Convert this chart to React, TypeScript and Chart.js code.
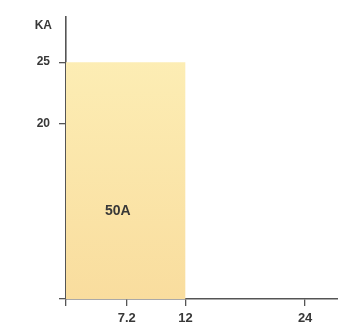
import React, { useEffect, useRef } from "react";
import { Chart, registerables } from "chart.js";

Chart.register(...registerables);

// Data
const areaX: number[] = [0, 12];
const areaY: number[] = [25, 25];
const areaLabel = "50A";
const areaLabelPos = { x: 5.2, y: 12.8 };
const yUnit = "KA";

// Tick positions (schematic axis) and their labels
const xTickValues: number[] = [0, 6.1, 12, 24];
const xTickLabels: string[] = ["", "7.2", "12", "24"];
const yTickValues: number[] = [5.6, 20, 25];
const yTickLabels: string[] = ["", "20", "25"];

const X_MIN = 0;
const X_MAX = 27.3;
const Y_MIN = 5.6;
const Y_MAX = 28.7;

const textColor = "#383838";
const axisColor = "#555555";
const fontFamily = "Arial, 'Liberation Sans', sans-serif";

export default function App() {
  const ref = useRef<HTMLCanvasElement | null>(null);

  useEffect(() => {
    document.body.style.margin = "0";
    const canvas = ref.current;
    if (!canvas) return;

    const labelPlugin = {
      id: "labels",
      afterDatasetsDraw(chart: any) {
        const { ctx, chartArea, scales } = chart;
        ctx.save();
        ctx.fillStyle = textColor;
        ctx.font = `bold 14px ${fontFamily}`;
        ctx.textAlign = "center";
        ctx.textBaseline = "middle";
        ctx.fillText(
          areaLabel,
          scales.x.getPixelForValue(areaLabelPos.x),
          scales.y.getPixelForValue(areaLabelPos.y)
        );
        ctx.font = `bold 12px ${fontFamily}`;
        ctx.textAlign = "right";
        ctx.fillText(yUnit, chartArea.left - 14, chartArea.top + 9);
        ctx.restore();
      },
    };

    const chart = new Chart(canvas, {
      type: "line",
      data: {
        datasets: [
          {
            data: areaX.map((x, i) => ({ x, y: areaY[i] })),
            fill: "start",
            borderWidth: 0,
            pointRadius: 0,
            backgroundColor: (c: any) => {
              const area = c.chart.chartArea;
              if (!area) return "#fbe6a8";
              const g = c.chart.ctx.createLinearGradient(0, area.top, 0, area.bottom);
              g.addColorStop(0, "#fdf0b8");
              g.addColorStop(1, "#f9dd9e");
              return g;
            },
          },
        ],
      },
      options: {
        animation: false,
        responsive: false,
        maintainAspectRatio: false,
        layout: { padding: { top: 17, right: 0, left: 0, bottom: 0 } },
        plugins: { legend: { display: false }, tooltip: { enabled: false } },
        scales: {
          x: {
            type: "linear",
            min: X_MIN,
            max: X_MAX,
            z: 1,
            afterBuildTicks: (s: any) => {
              s.ticks = xTickValues.map((v) => ({ value: v }));
            },
            afterFit: (s: any) => {
              s.height = 25;
            },
            ticks: {
              autoSkip: false,
              maxRotation: 0,
              padding: 5,
              color: textColor,
              font: { size: 13, family: fontFamily, weight: "bold" },
              callback: (v: any) => {
                const i = xTickValues.indexOf(Number(v));
                return i >= 0 ? xTickLabels[i] : "";
              },
            },
            grid: {
              drawOnChartArea: false,
              drawTicks: true,
              tickLength: 7,
              color: axisColor,
              lineWidth: 1.3,
            },
            border: { display: true, color: axisColor, width: 1.6 },
          },
          y: {
            type: "linear",
            min: Y_MIN,
            max: Y_MAX,
            z: 1,
            afterBuildTicks: (s: any) => {
              s.ticks = yTickValues.map((v) => ({ value: v }));
            },
            afterFit: (s: any) => {
              s.width = 66;
            },
            ticks: {
              autoSkip: false,
              padding: 9,
              color: textColor,
              font: { size: 12, family: fontFamily, weight: "bold" },
              callback: (v: any) => {
                const i = yTickValues.indexOf(Number(v));
                return i >= 0 ? yTickLabels[i] : "";
              },
            },
            grid: {
              drawOnChartArea: false,
              drawTicks: true,
              tickLength: 7,
              color: axisColor,
              lineWidth: 1.3,
            },
            border: { display: true, color: axisColor, width: 1.6 },
          },
        },
      },
      plugins: [labelPlugin],
    } as any);

    return () => chart.destroy();
  }, []);

  return (
    <div style={{ width: 338, height: 324, background: "#fff" }}>
      <canvas ref={ref} width={338} height={324} style={{ display: "block" }} />
    </div>
  );
}
